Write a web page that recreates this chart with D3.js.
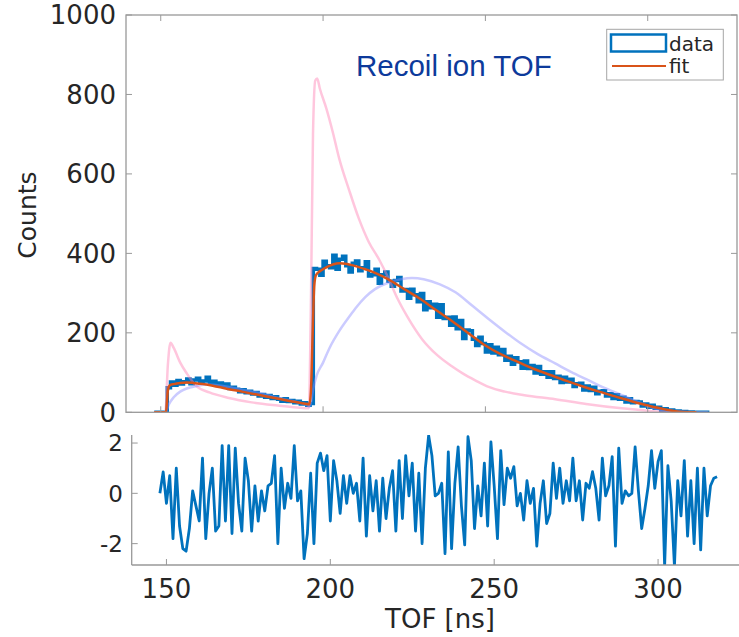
<!DOCTYPE html>
<html>
<head>
<meta charset="utf-8">
<script src="https://cdn.jsdelivr.net/npm/d3@7"></script>
<style>
  body { margin: 0; background: #fff; }
  svg { display: block; font-family: "DejaVu Sans", sans-serif; }
</style>
</head>
<body>
<div id="chart"></div>
<script>
// Histogram bins (1 ns wide, left edges) and counts
const binStart = 148;
const counts = [
  0, 0, 0, 0,
  62, 76, 68, 80, 71, 77, 84, 72, 81, 86, 74, 79, 88, 72, 78, 69, 74, 66, 71, 60,
  63, 58, 52, 57, 49, 53, 46, 50, 41, 45, 38, 42, 35, 39, 33, 28, 34, 27, 30, 24,
  28, 21, 24, 18, 22,
  362, 360, 345, 380, 369, 364, 395, 360, 385, 393, 369, 353, 375, 381, 356, 364,
  379, 343, 346, 360, 325, 346, 353, 330, 317, 332, 339, 305, 309, 287, 310, 296,
  278, 299, 258, 278, 263, 272, 239, 271, 236, 239, 219, 240, 210, 231, 186, 207,
  205, 184, 168, 189, 173, 152, 170, 149, 164, 145, 158, 131, 141, 121, 137, 127,
  111, 129, 110, 118, 99, 115, 96, 102, 88, 102, 85, 91, 75, 88, 76, 83, 65, 72,
  73, 56, 66, 55, 63, 47, 53, 54, 41, 47, 35, 44, 33, 38, 26, 34, 24, 27, 26, 16,
  21, 13, 18, 10, 13, 5, 9, 4, 6, 2, 3, 1, 2, 0, 1, 0, 0, 0, 0, 0
];

// Fit curve and its two components: [TOF, counts]
const fitCurve = [
  [148, 0], [151.6, 0], [152.2, 55], [152.8, 68], [154, 71], [156, 74], [158, 75],
  [160, 74], [163, 71], [166, 67], [170, 60], [175, 52], [180, 44], [185, 36],
  [190, 28], [194, 22], [195.8, 20], [196.3, 60], [196.8, 200], [197.3, 320],
  [197.8, 345], [199, 355], [201, 365], [203, 372], [205, 375], [207, 374],
  [210, 368], [213, 360], [216, 351], [220, 335], [225, 310], [230, 285],
  [235, 256], [240, 228], [245, 198], [250, 168], [255, 145], [260, 127],
  [265, 109], [270, 94], [275, 79], [280, 65], [285, 52], [290, 40], [295, 28],
  [300, 17], [305, 8], [308, 3], [311, 0.5], [315, 0]
];
const fastComp = [
  [148, 0], [151.4, 0], [152.2, 120], [153, 175], [154, 162], [156, 125],
  [158, 98], [161, 66], [165, 50], [171, 36], [178, 25], [186, 17], [192, 12],
  [195.6, 10], [196.3, 300], [196.9, 700], [197.6, 835], [198.2, 840],
  [199, 815], [201, 765], [203, 705], [205, 638], [208, 560], [211, 488],
  [214, 430], [217.3, 384], [220, 340], [223, 285], [226, 240], [230.5, 184],
  [235, 145], [240, 114], [243, 98], [247, 80], [251, 64], [256, 52], [262, 43],
  [271.5, 33], [281, 21], [292, 10], [300, 4], [308, 0], [312, 0]
];
const slowComp = [
  [148, 0], [151.5, 0], [152.5, 20], [154, 38], [156, 52], [158, 60], [161, 66],
  [164, 70], [167, 69], [170, 65], [175, 57], [180, 49], [184.4, 40], [188, 33],
  [192, 26], [195, 18], [195.8, 14], [196.4, 30], [197, 60], [198, 92],
  [200, 125], [202, 162], [205, 205], [208, 240], [210, 262], [213, 290],
  [216, 310], [220, 326], [224, 335], [227.4, 338], [231, 335], [236, 322],
  [240.8, 302], [246, 268], [251, 235], [256, 203], [261, 173], [266, 147],
  [271.5, 123], [276.5, 101], [281.7, 81], [286.5, 62], [291.9, 44], [297, 26],
  [302, 10], [307, 4], [312, 1], [318.5, 0]
];

// Normalised residuals, one per bin from 148 ns
const residStart = 148;
const residuals = [
  0.0, 0.85, -0.4, 0.7, -1.8, 1.0, -1.3, -2.2, -2.3, -1.4, 0.1, -0.5, -1.1, 1.4,
  -1.8, 0.0, 1.0, -1.5, -1.3, 1.9, -1.1, 1.9, -1.6, 1.8, -0.4, -1.5, 1.4, 0.5,
  -1.5, 0.3, -1.1, 0.1, -0.7, 0.3, 0.4, 1.5, -2.0, 1.0, -0.6, 0.4, -0.2, 1.9,
  -0.3, 0.1, -2.6, -1.6, 0.8, -2.0, 1.2, 1.6, 0.9, 1.5, -1.1, 1.3, 0.5, -0.8,
  0.7, -0.4, 0.7, 0.0, 0.4, -1.1, 1.4, -1.7, 0.7, -0.7, 0.5, -1.5, 0.6, -1.0,
  0.2, 0.9, -1.5, 1.3, -1.0, 1.5, -0.1, 1.2, -1.5, 0.8, -2.0, 1.0, 2.3,
  1.5, -0.1, 0.0, 0.4, -2.4, 1.65, -2.2, 0.4, 1.85, -0.5, -2.05, 2.25, 1.3, -1.4,
  0.3, -0.9, 1.2, -1.3, 2.05, 0.3, -1.8, 1.7, -0.45, 1.0, 0.6, 1.06, -0.5, 0.0,
  -1.06, 0.5, -0.4, 0.2, -2.1, -0.4, 0.5, -1.2, -0.8, 1.2, -0.2, 1.0, -0.4, 0.5,
  -0.3, 1.4, -0.3, 0.5, -1.06, 0.4, 0.2, 0.86, 0.2, -1.06, 1.4, -0.1, 0.3, 1.46,
  -2.1, 1.8, -0.4, 0.1, -0.1, 0.0, 1.85, 0.1, -1.4, -0.6, 0.3, 1.7, 0.2, 1.26,
  1.7, -2.9, 1.1, -0.3, -2.9, 0.5, -0.9, 1.3, -1.7, 0.5, -2.0, 1.0, -2.25, 1.0,
  -0.9, 0.3, 0.6, 0.66
];

const countTicks = [0, 200, 400, 600, 800, 1000];
const tofTicks = [150, 200, 250, 300];
const residTicks = [-2, 0, 2];

const width = 739, height = 637;
const axisGrey = "#999999", labelColor = "#262626";

const svg = d3.select("#chart").append("svg")
  .attr("width", width).attr("height", height);

// ---------- top panel ----------
const xTop = d3.scaleLinear().domain([139.3, 327.5]).range([126, 737]);
const yTop = d3.scaleLinear().domain([0, 1000]).range([412.3, 15]);

svg.append("clipPath").attr("id", "clipTop").append("rect")
  .attr("x", 126).attr("y", 15).attr("width", 611).attr("height", 397.3);

const topG = svg.append("g");

// stairs outline of the histogram
const stairPts = [[binStart, 0]];
counts.forEach((c, i) => {
  stairPts.push([binStart + i, c]);
  stairPts.push([binStart + i + 1, c]);
});
stairPts.push([binStart + counts.length, 0]);

const plotTop = topG.append("g").attr("clip-path", "url(#clipTop)");

plotTop.append("path")
  .datum(stairPts)
  .attr("fill", "none")
  .attr("stroke", "#0072BD")
  .attr("stroke-width", 3.5)
  .attr("d", d3.line().x(d => xTop(d[0])).y(d => yTop(d[1])));

const curveLine = d3.line().x(d => xTop(d[0])).y(d => yTop(d[1])).curve(d3.curveMonotoneX);

plotTop.append("path").datum(fastComp)
  .attr("fill", "none").attr("stroke", "#FF80B4").attr("stroke-opacity", 0.45)
  .attr("stroke-width", 2.5).attr("d", curveLine);

plotTop.append("path").datum(slowComp)
  .attr("fill", "none").attr("stroke", "#8C8CFF").attr("stroke-opacity", 0.45)
  .attr("stroke-width", 2.5).attr("d", curveLine);

plotTop.append("path").datum(fitCurve)
  .attr("fill", "none").attr("stroke", "#D95319")
  .attr("stroke-width", 2.5).attr("d", curveLine);

// box and inward ticks
topG.append("rect")
  .attr("x", 126).attr("y", 15).attr("width", 611).attr("height", 397.3)
  .attr("fill", "none").attr("stroke", axisGrey).attr("stroke-width", 1.3);

const tl = 6;
tofTicks.forEach(t => {
  topG.append("line").attr("x1", xTop(t)).attr("x2", xTop(t))
    .attr("y1", 412.3).attr("y2", 412.3 - tl).attr("stroke", axisGrey);
  topG.append("line").attr("x1", xTop(t)).attr("x2", xTop(t))
    .attr("y1", 15).attr("y2", 15 + tl).attr("stroke", axisGrey);
});
countTicks.forEach(t => {
  topG.append("line").attr("x1", 126).attr("x2", 126 + tl)
    .attr("y1", yTop(t)).attr("y2", yTop(t)).attr("stroke", axisGrey);
  topG.append("line").attr("x1", 737).attr("x2", 737 - tl)
    .attr("y1", yTop(t)).attr("y2", yTop(t)).attr("stroke", axisGrey);
  topG.append("text")
    .attr("x", 116).attr("y", yTop(t)).attr("dy", "0.36em")
    .attr("text-anchor", "end").attr("font-size", 26).attr("fill", labelColor)
    .text(t);
});

topG.append("text")
  .attr("transform", "translate(36,215) rotate(-90)")
  .attr("text-anchor", "middle").attr("font-size", 25).attr("fill", labelColor)
  .text("Counts");

// title
topG.append("text")
  .attr("x", 356).attr("y", 76)
  .attr("font-family", "'Liberation Sans', Arial, sans-serif")
  .attr("font-size", 29.5).attr("fill", "#0D3A9B")
  .text("Recoil ion TOF");

// legend
const lg = topG.append("g");
lg.append("rect").attr("x", 606.7).attr("y", 29.3).attr("width", 116.6).attr("height", 50.7)
  .attr("fill", "#fff").attr("stroke", "#a6a6a6").attr("stroke-width", 1);
lg.append("rect").attr("x", 611).attr("y", 34.5).attr("width", 55).attr("height", 17)
  .attr("fill", "none").attr("stroke", "#0072BD").attr("stroke-width", 2.5);
lg.append("line").attr("x1", 612).attr("x2", 666).attr("y1", 66).attr("y2", 66)
  .attr("stroke", "#D95319").attr("stroke-width", 2);
lg.append("text").attr("x", 669).attr("y", 50.5).attr("font-size", 20)
  .attr("fill", labelColor).text("data");
lg.append("text").attr("x", 669).attr("y", 73).attr("font-size", 20)
  .attr("fill", labelColor).text("fit");

// ---------- residual panel ----------
const xBot = d3.scaleLinear().domain([139.4, 327.5]).range([131.7, 748.2]);
const yBot = d3.scaleLinear().domain([-2.85, 2.32]).range([565, 435]);

svg.append("clipPath").attr("id", "clipBot").append("rect")
  .attr("x", 131.7).attr("y", 435).attr("width", 620).attr("height", 130);

const bot = svg.append("g");
bot.append("g").attr("clip-path", "url(#clipBot)")
  .append("path")
  .datum(residuals)
  .attr("fill", "none").attr("stroke", "#0072BD").attr("stroke-width", 2.8)
  .attr("stroke-linejoin", "round")
  .attr("d", d3.line().x((d, i) => xBot(residStart + i)).y(d => yBot(d)));

bot.append("line").attr("x1", 131.7).attr("x2", 131.7).attr("y1", 435).attr("y2", 565)
  .attr("stroke", axisGrey).attr("stroke-width", 1.3);
bot.append("line").attr("x1", 131.7).attr("x2", 739).attr("y1", 565).attr("y2", 565)
  .attr("stroke", axisGrey).attr("stroke-width", 1.3);

residTicks.forEach(t => {
  bot.append("line").attr("x1", 131.7).attr("x2", 131.7 + tl)
    .attr("y1", yBot(t)).attr("y2", yBot(t)).attr("stroke", axisGrey);
  bot.append("text")
    .attr("x", 123).attr("y", yBot(t)).attr("dy", "0.36em")
    .attr("text-anchor", "end").attr("font-size", 23).attr("fill", labelColor)
    .text(t);
});
tofTicks.forEach(t => {
  bot.append("line").attr("x1", xBot(t)).attr("x2", xBot(t))
    .attr("y1", 565).attr("y2", 565 - tl).attr("stroke", axisGrey);
  bot.append("text")
    .attr("x", xBot(t)).attr("y", 598)
    .attr("text-anchor", "middle").attr("font-size", 26).attr("fill", labelColor)
    .text(t);
});

bot.append("text")
  .attr("x", 440).attr("y", 628)
  .attr("text-anchor", "middle").attr("font-size", 26).attr("fill", labelColor)
  .text("TOF [ns]");
</script>
</body>
</html>
